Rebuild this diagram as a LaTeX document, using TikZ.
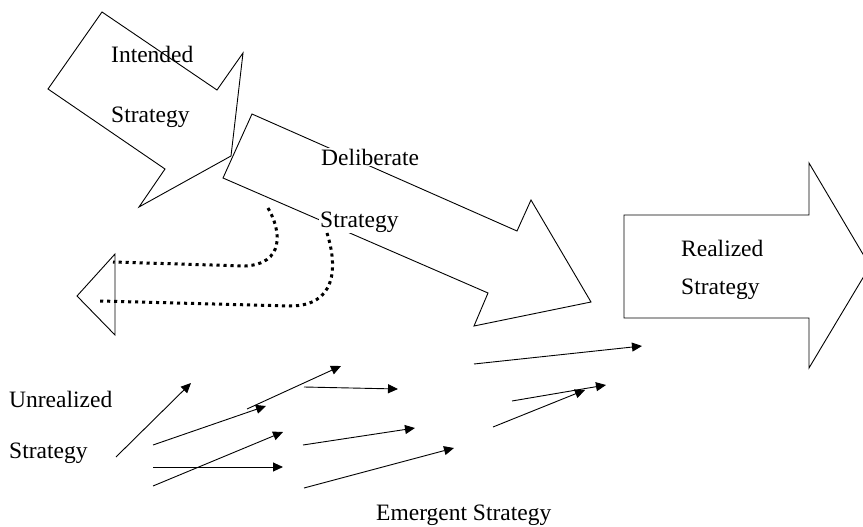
\documentclass[tikz,border=0pt]{standalone}
\usepackage{fontspec}
\setmainfont{Liberation Serif}
\usetikzlibrary{arrows.meta}

\tikzset{
  bigarrow/.style={draw, line width=0.9pt, line join=miter},
  label/.style={anchor=base west, inner sep=1pt, font=\fontsize{23.5}{28}\selectfont},
  gaplabel/.style={label, fill=white},
  lost/.style={line width=3pt, dash pattern=on 3.2pt off 3.8pt},
  emerge/.style={line width=0.9pt, -{Triangle[length=10pt,width=9pt]}}
}

\begin{document}
\begin{tikzpicture}[x=1pt,y=-1pt]
        \clip (0,0) rectangle (863,527);

        % intended strategy
        \draw[bigarrow] (102,12) -- (217,90) -- (243,53) -- (231,156)
            -- (139,207) -- (165,169) -- (48,89) -- cycle;
        \node[label] (intended) at (110,63) {Intended};
        \node[label] (intstrat) at (110,122) {Strategy};

        % deliberate strategy
        \draw[bigarrow] (252,114) -- (517,231) -- (531,200) -- (591,302)
            -- (474,326) -- (488,293) -- (223,178) -- cycle;
        \node[gaplabel] (deliberate) at (320,165) {Deliberate};
        \node[gaplabel] (delstrat) at (319,227) {Strategy};

        % realized strategy
        \draw[bigarrow] (624,215) -- (809,215) -- (809,163) -- (870,266)
            -- (809,368) -- (809,318) -- (624,318) -- cycle;
        \node[label] (realized) at (680,256) {Realized};
        \node[label] (realstrat) at (680,294) {Strategy};

        % unrealized strategy
        \draw[bigarrow] (115,254) -- (77,296) -- (115,335) -- cycle;
        \coordinate (u1) at (268,208);
        \coordinate (u2) at (327,233);
        \draw[lost] (u1) .. controls (282,232) and (284,264) .. (245,266) -- (113,262);
        \draw[lost] (u2) .. controls (338,268) and (336,306) .. (290,306) -- (100,301);
        \node[label] (unrealized) at (8,407) {Unrealized};
        \node[label] (unrstrat) at (8,458) {Strategy};

        % emergent strategy
        \foreach \i/\sx/\sy/\tx/\ty in {1/116/457/191/383, 2/153/445/266/406,
            3/247/409/341/366, 4/304/387/398/389, 5/153/467/283/467,
            6/153/486/283/432, 7/303/445/415/428, 8/304/488/454/448,
            9/474/364/642/346, 10/512/401/606/385, 11/493/427/585/390}
        {
            \coordinate (e\i s) at (\sx,\sy);
            \coordinate (e\i t) at (\tx,\ty);
            \draw[emerge] (e\i s) -- (e\i t);
        }
        \node[label] (emergent) at (375,520) {Emergent Strategy};
    \end{tikzpicture}
\end{document}
